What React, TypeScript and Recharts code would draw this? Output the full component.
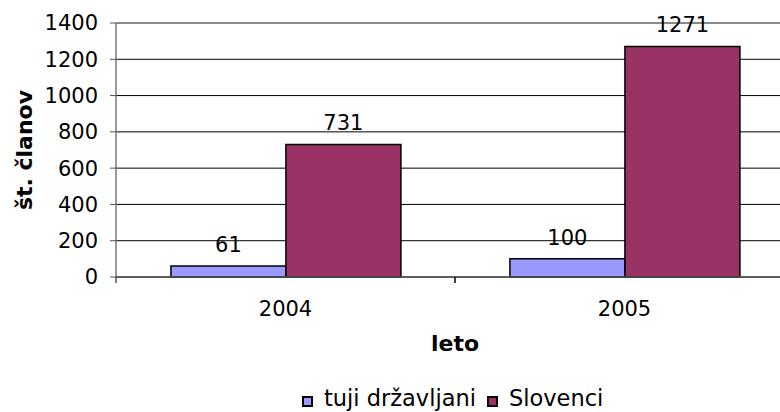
import React from 'react';
import { BarChart, Bar, XAxis, YAxis, CartesianGrid, Legend, LabelList, ReferenceLine, Label } from 'recharts';

const years = ['2004', '2005'];
const foreignCitizens = [61, 100];
const slovenes = [731, 1271];
const yTicks = [0, 200, 400, 600, 800, 1000, 1200, 1400];
const seriesNames = ['tuji državljani', 'Slovenci'];
const seriesColors = ['#9999FF', '#993366'];
const xTitle = 'leto';
const yTitle = 'št. članov';

const data = years.map((y, i) => ({ year: y, tuji: foreignCitizens[i], slo: slovenes[i] }));

const FONT = '"DejaVu Sans", Verdana, sans-serif';

const XTick = (props: any) => {
  const { x, y, payload } = props;
  const off = payload && payload.offset ? payload.offset : 0;
  return (
    <g>
      <line x1={x - off} x2={x - off} y1={y - 6} y2={y} stroke="#000" strokeWidth={1} />
      <line x1={x + off} x2={x + off} y1={y - 6} y2={y} stroke="#000" strokeWidth={1} />
      <text x={x} y={y + 18} dy="0.71em" textAnchor="middle" fontSize={21} fontFamily={FONT} fill="#000">
        {payload.value}
      </text>
    </g>
  );
};

const renderLegend = () => {
  return (
    <div style={{ display: 'flex', alignItems: 'center', fontFamily: FONT, fontSize: 22.5, lineHeight: '27px', height: 27, whiteSpace: 'nowrap' }}>
      {seriesNames.map((name, i) => (
        <div key={i} style={{ display: 'flex', alignItems: 'center', marginRight: 11 }}>
          <span style={{ display: 'inline-block', boxSizing: 'border-box', width: 11, height: 11, background: seriesColors[i], border: '2px solid #000', marginRight: 11, marginTop: 5 }} />
          <span style={{ color: '#000' }}>{name}</span>
        </div>
      ))}
    </div>
  );
};

export default function App() {
  return (
    <div style={{ position: 'fixed', left: 0, top: 0, width: 780, height: 412, overflow: 'hidden', background: '#fff' }}>
      <BarChart
        width={800}
        height={412}
        data={data}
        margin={{ top: 23, right: 6, bottom: 0, left: 0 }}
        barCategoryGap="16.2%"
        barGap={0}
      >
        <CartesianGrid vertical={false} stroke="#000" strokeWidth={1} />
        <ReferenceLine y={1400} stroke="#8c8c8c" strokeWidth={1.5} />
        <XAxis
          dataKey="year"
          height={108}
          tick={<XTick />}
          tickLine={{ stroke: 'transparent' }}
          tickSize={6}
          tickMargin={0}
          axisLine={{ stroke: '#555', strokeWidth: 1.5 }}
          interval={0}
        >
          <Label
            content={(p: any) => {
              const vb = p.viewBox || {};
              return (
                <text x={vb.x + vb.width / 2} y={vb.y + 74} textAnchor="middle" fontSize={22} fontWeight="bold" fontFamily={FONT} fill="#000">
                  {xTitle}
                </text>
              );
            }}
          />
        </XAxis>
        <YAxis
          width={116}
          domain={[0, 1400]}
          ticks={yTicks}
          interval={0}
          tickSize={6}
          tickMargin={12}
          tick={{ fontSize: 21, fontFamily: FONT, fill: '#000' }}
          tickLine={{ stroke: '#555' }}
          axisLine={{ stroke: '#777', strokeWidth: 1.5 }}
        >
          <Label
            content={(p: any) => {
              const vb = p.viewBox || {};
              const cx = vb.x + 32;
              const cy = vb.y + vb.height / 2;
              return (
                <text x={cx} y={cy} transform={`rotate(-90, ${cx}, ${cy})`} textAnchor="middle" fontSize={22} fontWeight="bold" fontFamily={FONT} fill="#000">
                  {yTitle}
                </text>
              );
            }}
          />
        </YAxis>
        <Legend
          verticalAlign="bottom"
          content={renderLegend}
          wrapperStyle={{ left: 302, bottom: 0, width: 'auto', height: 27 }}
        />
        <Bar dataKey="tuji" name={seriesNames[0]} fill={seriesColors[0]} stroke="#000" strokeWidth={1.5} isAnimationActive={false}>
          <LabelList dataKey="tuji" position="top" offset={14} fontSize={21} fontFamily={FONT} fill="#000" />
        </Bar>
        <Bar dataKey="slo" name={seriesNames[1]} fill={seriesColors[1]} stroke="#000" strokeWidth={1.5} isAnimationActive={false}>
          <LabelList dataKey="slo" position="top" offset={14} fontSize={21} fontFamily={FONT} fill="#000" />
        </Bar>
      </BarChart>
    </div>
  );
}
